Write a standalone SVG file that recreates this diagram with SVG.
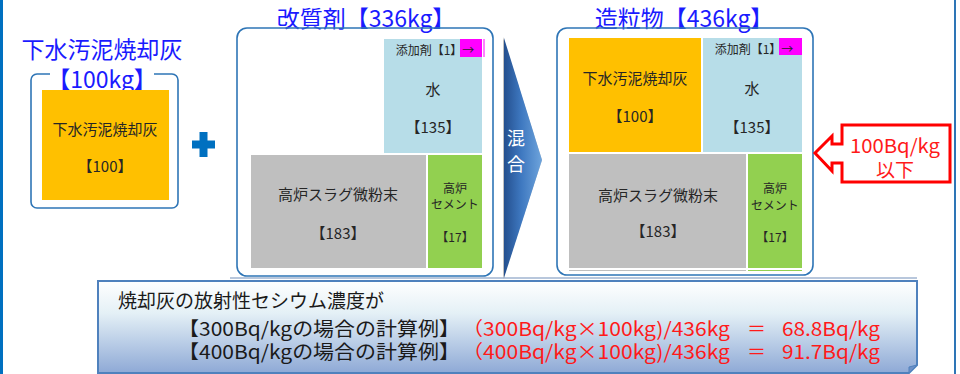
<svg xmlns="http://www.w3.org/2000/svg" width="960" height="374" viewBox="0 0 960 374">
<defs>
<style>
text{font-family:"Noto Sans CJK JP","Noto Sans",sans-serif;}
.title{fill:#1a1aff;font-size:23px;text-anchor:middle;dominant-baseline:central;}
.lbl{fill:#262626;font-size:15px;text-anchor:middle;dominant-baseline:central;}
.sm{fill:#262626;font-size:12px;text-anchor:middle;dominant-baseline:central;}
.frame{fill:none;stroke:#2e75b6;stroke-width:1.6;}
.ash{fill:#ffc000;}
.water{fill:#b7dde8;}
.slag{fill:#bfbfbf;}
.cem{fill:#92d050;}
.add{fill:#ff00ff;}
.note{font-size:19px;fill:#1a1a1a;dominant-baseline:central;}
.red{fill:#ff1a1a;}
</style>
<linearGradient id="chev" x1="0" y1="0" x2="1" y2="0">
<stop offset="0" stop-color="#244f8e"/>
<stop offset="0.45" stop-color="#3e78c0"/>
<stop offset="1" stop-color="#6ea4dc"/>
</linearGradient>
<linearGradient id="noteg" x1="0" y1="0" x2="0" y2="1">
<stop offset="0" stop-color="#ffffff"/>
<stop offset="0.35" stop-color="#e4f0f6"/>
<stop offset="1" stop-color="#8ea9d6"/>
</linearGradient>
</defs>
<rect x="0" y="0" width="960" height="374" fill="#ffffff"/>
<rect x="0" y="0" width="3" height="374" fill="#0070c0"/>
<rect x="954" y="0" width="2" height="374" fill="#2e75b6"/>
<line x1="230" y1="278" x2="917" y2="278" stroke="#b8c7dc" stroke-width="2"/>

<g id="node-ash">
<text class="title" x="102" y="48">下水汚泥焼却灰</text>
<rect class="frame" x="31" y="74" width="147" height="134" rx="6"/>
<rect x="50" y="66" width="104" height="20" fill="#ffffff"/>
<text class="title" x="102" y="78" font-size="22">【100kg】</text>
<rect class="ash" x="42" y="90" width="127" height="110"/>
<text class="lbl" x="105" y="128">下水汚泥焼却灰</text>
<text class="lbl" x="105" y="165">【100】</text>
</g>

<g id="node-modifier">
<text class="title" x="366" y="17">改質剤【336kg】</text>
<rect class="frame" x="237" y="28" width="256" height="248" rx="10"/>
<rect class="water" x="384" y="39" width="98" height="114"/>
<rect class="add" x="460" y="39" width="22" height="18"/>
<line x1="484" y1="39" x2="484" y2="57" stroke="#ff00ff" stroke-width="1"/>
<text class="sm" x="435" y="49">添加剤【1】→</text>
<text class="lbl" x="433" y="88">水</text>
<text class="lbl" x="433" y="126">【135】</text>
<rect class="slag" x="251" y="155" width="175" height="113"/>
<text class="lbl" x="338" y="193">高炉スラグ微粉末</text>
<text class="lbl" x="338" y="232">【183】</text>
<rect class="cem" x="428" y="155" width="54" height="113"/>
<text class="sm" x="455" y="187">高炉</text>
<text class="sm" x="455" y="203">セメント</text>
<text class="sm" x="455" y="236">【17】</text>
</g>

<g id="node-granules">
<text class="title" x="684" y="17">造粒物【436kg】</text>
<rect class="frame" x="557" y="28" width="256" height="247" rx="10"/>
<rect class="ash" x="569" y="38" width="132" height="114"/>
<text class="lbl" x="635" y="77">下水汚泥焼却灰</text>
<text class="lbl" x="635" y="115">【100】</text>
<rect class="water" x="703" y="38" width="99" height="114"/>
<rect class="add" x="779" y="38" width="23" height="17"/>
<text class="sm" x="754" y="48">添加剤【1】→</text>
<text class="lbl" x="752" y="87">水</text>
<text class="lbl" x="752" y="126">【135】</text>
<rect class="slag" x="569" y="154" width="177" height="114"/>
<text class="lbl" x="658" y="194">高炉スラグ微粉末</text>
<text class="lbl" x="658" y="230">【183】</text>
<rect class="cem" x="748" y="154" width="54" height="114"/>
<text class="sm" x="775" y="187">高炉</text>
<text class="sm" x="775" y="204">セメント</text>
<text class="sm" x="775" y="236">【17】</text>
<line x1="569" y1="270.5" x2="746" y2="270.5" stroke="#bfbfbf" stroke-width="1"/>
<line x1="748" y1="270.5" x2="802" y2="270.5" stroke="#92d050" stroke-width="1"/>
</g>

<g id="connectors">
<g id="plus">
<rect x="192" y="140.5" width="23" height="8" fill="#0070c0"/>
<rect x="199.5" y="132" width="8" height="25" fill="#0070c0"/>
</g>
<g id="arrow-mix">
<path d="M503,37 L542,160 L503,279 Z" fill="#7f7f7f" opacity="0.5"/>
<path d="M504,38 L542,160 L504,278 Z" fill="url(#chev)"/>
<text x="516" y="137" font-size="18" fill="#ffffff" text-anchor="middle" dominant-baseline="central">混</text>
<text x="516" y="163" font-size="18" fill="#ffffff" text-anchor="middle" dominant-baseline="central">合</text>
</g>
</g>

<g id="callout">
<path d="M842,125 L950,125 L950,182 L842,182 L842,163 L832,163 L832,171 L815,153 L832,136 L832,144 L842,144 Z" fill="#ffffff" stroke="#ff0000" stroke-width="3"/>
<text x="895" y="144" font-size="19" fill="#ff1a1a" text-anchor="middle" dominant-baseline="central" textLength="90" lengthAdjust="spacingAndGlyphs">100Bq/kg</text>
<text x="895" y="168" font-size="19" fill="#ff1a1a" text-anchor="middle" dominant-baseline="central">以下</text>
</g>

<g id="note">
<path d="M98,281 L917,281 L917,365 L909,373 L98,373 Z" fill="url(#noteg)" stroke="#4f81bd" stroke-width="2"/>
<path d="M917,365 L909,367 L909,373 Z" fill="#6d8fc6" stroke="#4f81bd" stroke-width="1"/>
<text class="note" x="118" y="299">焼却灰の放射性セシウム濃度が</text>
<text class="note" x="178" y="327" textLength="282" lengthAdjust="spacingAndGlyphs">【300Bq/kgの場合の計算例】</text>
<text class="note red" x="462" y="327" textLength="268" lengthAdjust="spacingAndGlyphs">（300Bq/kg×100kg)/436kg</text>
<text class="note red" x="747" y="327">＝</text>
<text class="note red" x="782" y="327" textLength="98" lengthAdjust="spacingAndGlyphs">68.8Bq/kg</text>
<text class="note" x="178" y="350" textLength="282" lengthAdjust="spacingAndGlyphs">【400Bq/kgの場合の計算例】</text>
<text class="note red" x="462" y="350" textLength="268" lengthAdjust="spacingAndGlyphs">（400Bq/kg×100kg)/436kg</text>
<text class="note red" x="747" y="350">＝</text>
<text class="note red" x="782" y="350" textLength="98" lengthAdjust="spacingAndGlyphs">91.7Bq/kg</text>
</g>
</svg>
